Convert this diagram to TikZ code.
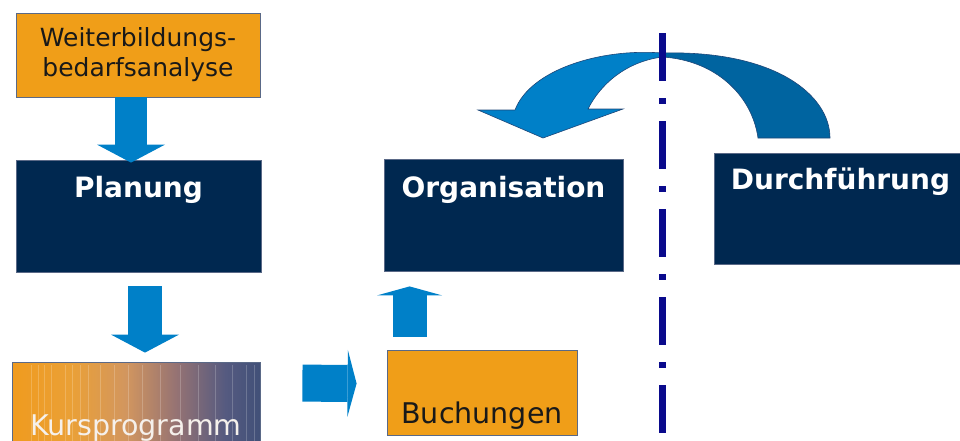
\documentclass[tikz,border=0pt]{standalone}
\usepackage{tikz}
\usepackage{xcolor}
\usepackage{fontspec}
\setmainfont{DejaVu Sans}
\usetikzlibrary{arrows.meta}

\begin{document}
\begin{tikzpicture}[x=1pt, y=-1pt,
  box/.style={draw=boxline, line width=0.8pt, inner sep=0pt},
  darkbox/.style={box, fill=navybox, text=white, font=\fontsize{28}{34}\selectfont\bfseries},
  orangebox/.style={box, fill=orangebox, text=black!90, font=\fontsize{28.5}{34}\selectfont},
  blockarrow/.style n args={3}{draw=arrowblue, line width=#1, -{Triangle[length=#2, width=#3, line width=0pt]}},
  divider/.style={draw=divblue, line width=7pt, dash pattern=on 48pt off 17pt on 6pt off 17pt}]
\definecolor{navybox}{RGB}{0,40,80}
\definecolor{orangebox}{RGB}{240,158,24}
\definecolor{boxline}{RGB}{90,105,135}
\definecolor{arrowblue}{RGB}{0,128,200}
\definecolor{arrowdark}{RGB}{0,100,160}
\definecolor{arrowline}{RGB}{30,70,120}
\definecolor{divblue}{RGB}{10,10,140}
\definecolor{kursA}{RGB}{240,155,30}
\definecolor{kursB}{RGB}{234,160,55}
\definecolor{kursC}{RGB}{210,150,95}
\definecolor{kursD}{RGB}{150,115,115}
\definecolor{kursE}{RGB}{85,90,128}
\definecolor{kursF}{RGB}{65,80,120}
\pgfdeclarehorizontalshading{kursfade}{100bp}{color(0bp)=(kursA); color(25bp)=(kursA);
  color(37bp)=(kursB); color(48bp)=(kursC); color(58bp)=(kursD); color(68bp)=(kursE);
  color(75bp)=(kursF); color(100bp)=(kursF)}
\useasboundingbox (0,0) rectangle (960,440);

% boxes
\node[orangebox, minimum width=244pt, minimum height=84pt, align=center, font=\fontsize{25}{30}\selectfont] (weiter) at (138,55) {Weiterbildungs-\\bedarfsanalyse};
\node[darkbox, minimum width=245pt, text height=37pt, text depth=75pt] (planung) at (138.5,216) {Planung};
\node[darkbox, minimum width=239pt, text height=38pt, text depth=74pt] (org) at (503.5,215) {Organisation};
\node[darkbox, minimum width=253pt, text height=36pt, text depth=75pt] (durch) at (840.5,208.5) {Durchführung};
\node[box, shading=kursfade, text={rgb,255:red,245;green,240;blue,235}, minimum width=248pt, text height=73pt, text depth=15pt, font=\fontsize{28.5}{34}\selectfont] (kurs) at (136,406) {Kursprogramm};
\foreach \sx in {20,27,33,40,54,61,69,77,89,103,117,131,149,169,187,204,221,235,243}
  \draw[white, opacity=0.2, line width=1.5pt] ([xshift=\sx pt, yshift=-3pt]kurs.north west) -- ([xshift=\sx pt]kurs.south west);
\node[orangebox, minimum width=190pt, text height=73pt, text depth=12pt] (buch) at (482,392.5) {Buchungen};

% block arrows
\draw[blockarrow={32pt}{18pt}{68pt}] ([xshift=-7pt]weiter.south) -- ([xshift=-7.5pt,yshift=-3pt]planung.north);
\draw[blockarrow={34pt}{18pt}{68pt}] ([xshift=6.5pt,yshift=-14pt]planung.south) -- ([xshift=9pt,yshift=9pt]kurs.north);
\draw[blockarrow={37pt}{9pt}{67pt}] ([xshift=42pt,yshift=-21.5pt]kurs.north east) -- ([xshift=-30pt,yshift=9pt]buch.west);
\draw[blockarrow={34pt}{9pt}{65pt}] ([xshift=23pt,yshift=13pt]buch.north west) -- ([xshift=26pt,yshift=-15pt]org.south west);

% curved arrow back
\filldraw[fill=arrowdark, draw=arrowline, line width=0.6pt] (662,53) .. controls (775,50) and (830,95) .. (830,138)
  -- (758,138) .. controls (752,95) and (715,60) .. (662,57) -- cycle;
\filldraw[fill=arrowblue, draw=arrowline, line width=0.6pt] (662,53) .. controls (600,48) and (530,70) .. (515,110)
  -- (478,110) -- (543,138) -- (623,109) -- (588,109) .. controls (600,85) and (625,62) .. (662,57) -- cycle;

% divider
\coordinate (divtop) at (662,33);
\coordinate (divbot) at (662,445);
\draw[divider] (divtop) -- (divbot);
\end{tikzpicture}
\end{document}
